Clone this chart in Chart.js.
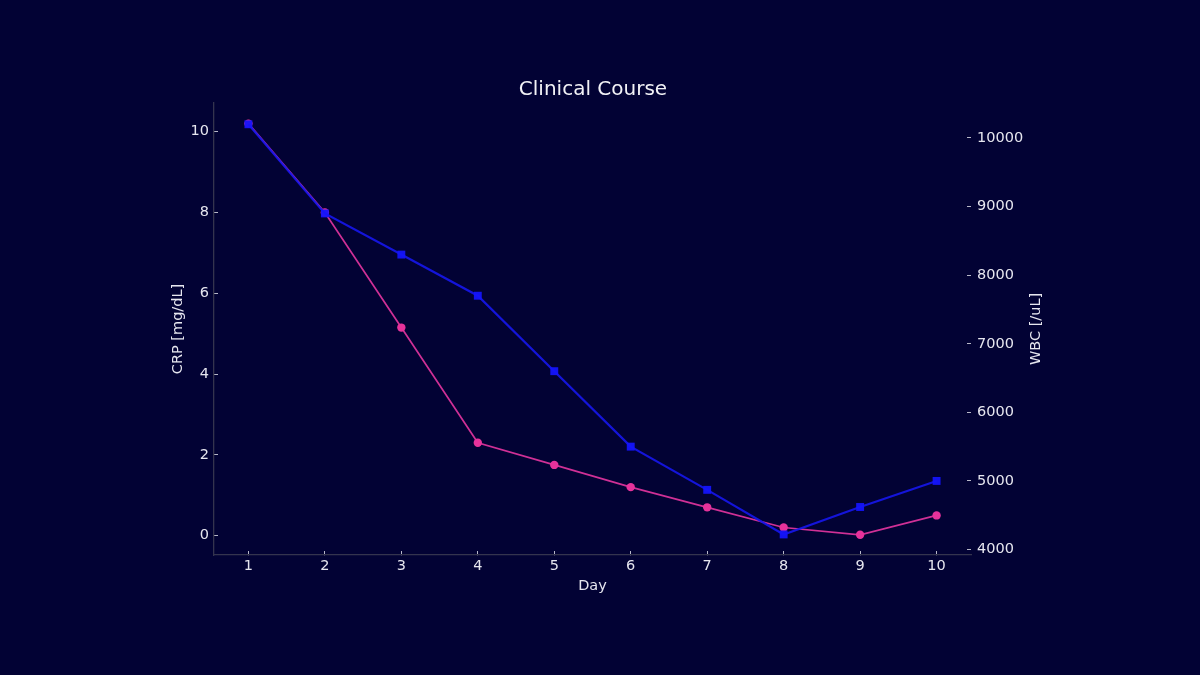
<!DOCTYPE html>
<html>
<head>
<meta charset="utf-8">
<script src="https://cdn.jsdelivr.net/npm/chart.js@4"></script>
<style>
  html, body { margin: 0; padding: 0; background: #020234; }
  #wrap { width: 1200px; height: 675px; }
</style>
</head>
<body>
<div id="wrap"><canvas id="c" width="1200" height="675"></canvas></div>
<script>
const days = [1, 2, 3, 4, 5, 6, 7, 8, 9, 10];
const crp = [10.2, 8.0, 5.15, 2.3, 1.75, 1.2, 0.7, 0.2, 0.02, 0.5];
const wbc = [10200, 8900, 8300, 7700, 6600, 5500, 4870, 4220, 4620, 5000];
const xTicks = [1, 2, 3, 4, 5, 6, 7, 8, 9, 10];
const crpTicks = [0, 2, 4, 6, 8, 10];
const wbcTicks = [4000, 5000, 6000, 7000, 8000, 9000, 10000];

const FONT = "'DejaVu Sans', sans-serif";
const TXT = '#e6e6ef';
const SPINE = '#34344e';
const TICK = '#b8b8c8';

const rightTitle = {
  id: 'rightTitle',
  afterDraw(chart) {
    const ctx = chart.ctx;
    const a = chart.chartArea;
    ctx.save();
    ctx.translate(1036, (a.top + a.bottom) / 2);
    ctx.rotate(-Math.PI / 2);
    ctx.fillStyle = TXT;
    ctx.font = "14.5px " + FONT;
    ctx.textAlign = 'center';
    ctx.textBaseline = 'middle';
    ctx.fillText('WBC [/uL]', 0, 0);
    ctx.restore();
  }
};

const bg = {
  id: 'bg',
  beforeDraw(chart) {
    const ctx = chart.ctx;
    ctx.save();
    ctx.fillStyle = '#020234';
    ctx.fillRect(0, 0, chart.width, chart.height);
    ctx.restore();
  }
};

function setTicks(arr) {
  return function (scale) { scale.ticks = arr.map(v => ({ value: v })); };
}
const plain = v => String(v);

new Chart(document.getElementById('c'), {
  type: 'line',
  data: {
    datasets: [
      {
        label: 'WBC',
        data: days.map((d, i) => ({ x: d, y: wbc[i] })),
        yAxisID: 'y1',
        borderColor: 'rgba(22,22,232,0.92)',
        backgroundColor: 'rgba(20,20,250,0.95)',
        borderWidth: 2.2,
        pointStyle: 'rect',
        pointRadius: 5.6,
        pointBorderWidth: 0,
        tension: 0,
        order: 0
      },
      {
        label: 'CRP',
        data: days.map((d, i) => ({ x: d, y: crp[i] })),
        yAxisID: 'y',
        borderColor: 'rgba(226,52,158,0.92)',
        backgroundColor: 'rgba(230,50,155,1)',
        borderWidth: 1.7,
        pointStyle: 'circle',
        pointRadius: 4.2,
        pointBorderWidth: 0,
        tension: 0,
        order: 1
      }
    ]
  },
  options: {
    responsive: false,
    animation: false,
    devicePixelRatio: 1,
    layout: { padding: { left: 160, right: 174, top: 78, bottom: 80 } },
    plugins: {
      legend: { display: false },
      tooltip: { enabled: false },
      title: {
        display: true,
        text: 'Clinical Course',
        color: '#f2f2f6',
        font: { family: FONT, size: 20, weight: 'normal' },
        padding: { top: 0, bottom: 1 }
      }
    },
    scales: {
      x: {
        type: 'linear',
        min: 0.55,
        max: 10.45,
        afterBuildTicks: setTicks(xTicks),
        afterFit(s) { s.height = 40; },
        grid: { drawOnChartArea: false, drawTicks: true, tickLength: -4, color: TICK, tickColor: TICK, tickWidth: 1 },
        border: { display: true, color: SPINE, width: 1.3 },
        ticks: { color: TXT, font: { family: FONT, size: 14.5 }, padding: 7, maxRotation: 0, autoSkip: false, callback: plain },
        title: { display: true, text: 'Day', color: TXT, font: { family: FONT, size: 14.5 }, padding: { top: 0, bottom: 0 } }
      },
      y: {
        type: 'linear',
        position: 'left',
        min: -0.48,
        max: 10.71,
        afterBuildTicks: setTicks(crpTicks),
        afterFit(s) { s.width = 54; },
        grid: { drawOnChartArea: false, drawTicks: true, tickLength: -4, color: TICK, tickColor: TICK, tickWidth: 1 },
        border: { display: true, color: SPINE, width: 1.3 },
        ticks: { color: TXT, font: { family: FONT, size: 14.5 }, padding: 9, autoSkip: false, callback: plain },
        title: { display: true, text: 'CRP [mg/dL]', color: TXT, font: { family: FONT, size: 14.5 }, padding: { top: 10, bottom: 0 } }
      },
      y1: {
        type: 'linear',
        position: 'right',
        min: 3920,
        max: 10510,
        afterBuildTicks: setTicks(wbcTicks),
        afterFit(s) { s.width = 55; },
        grid: { drawOnChartArea: false, drawTicks: true, tickLength: -4, color: TICK, tickColor: TICK, tickWidth: 1 },
        border: { display: false },
        ticks: { color: TXT, font: { family: FONT, size: 14.5 }, padding: 10, autoSkip: false, callback: plain },
        title: { display: false }
      }
    }
  },
  plugins: [bg, rightTitle]
});
</script>
</body>
</html>
